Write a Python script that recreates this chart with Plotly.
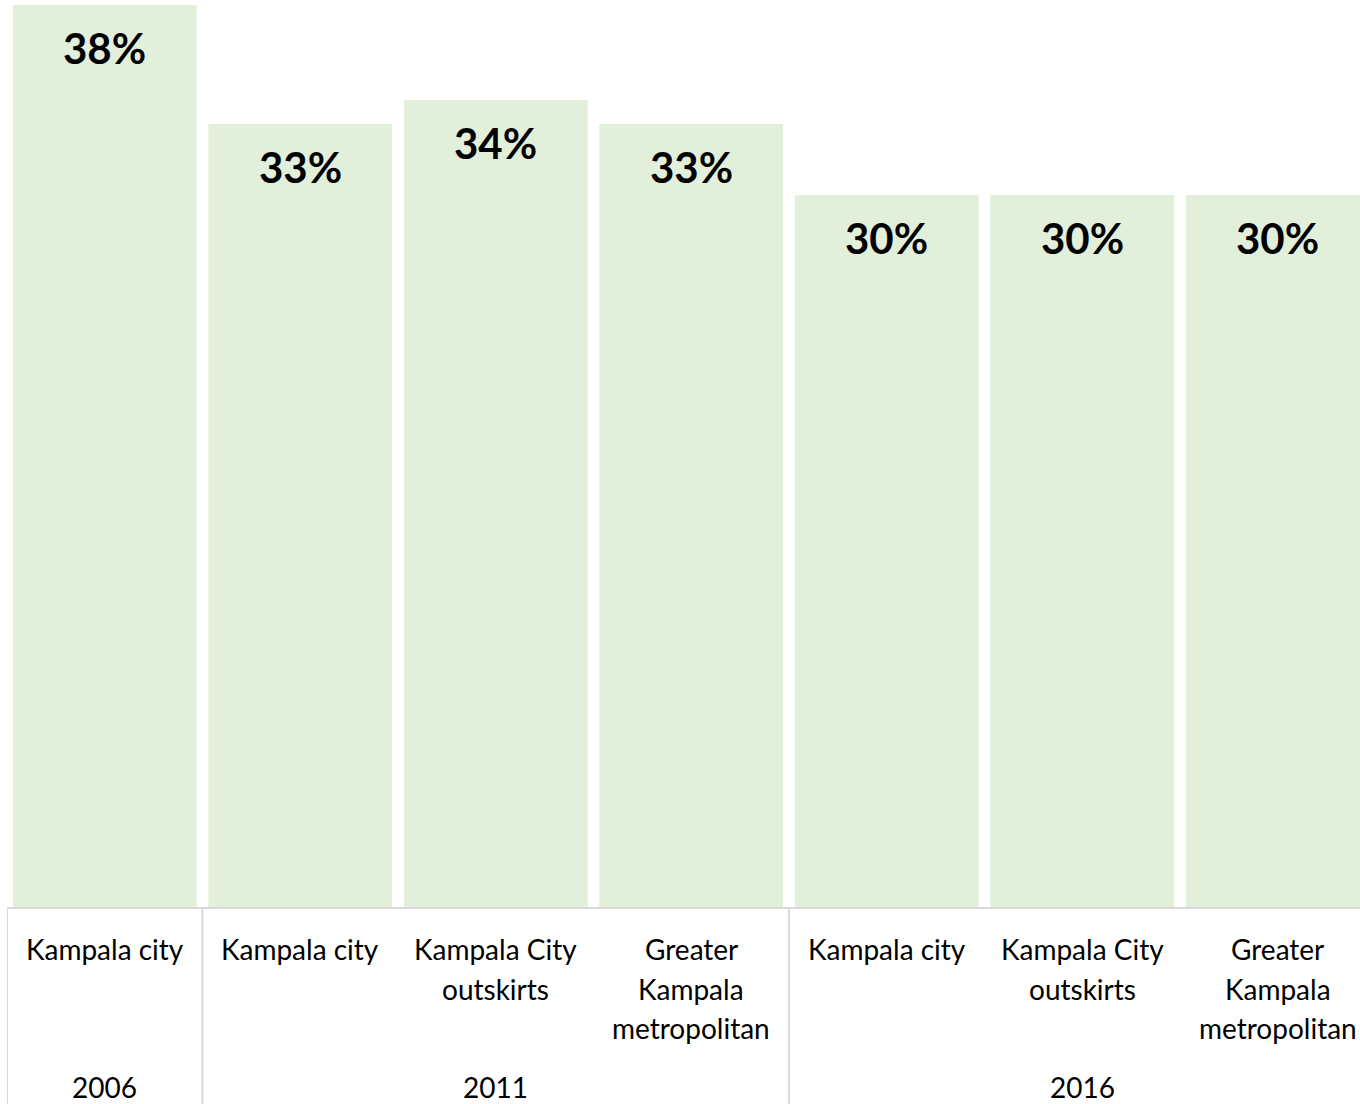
import plotly.graph_objects as go

# Share (%) by area and survey year
areas = ["Kampala city", "Kampala city", "Kampala City\noutskirts", "Greater\nKampala\nmetropolitan",
         "Kampala city", "Kampala City\noutskirts", "Greater\nKampala\nmetropolitan"]
values = [38, 33, 34, 33, 30, 30, 30]
years = ["2006", "2011", "2016"]
year_groups = [[0], [1, 2, 3], [4, 5, 6]]

bar_color = "#E2EFDA"
line_color = "#D9D9D9"
font_family = "Lato, 'Open Sans', sans-serif"

x_pos = list(range(len(values)))

fig = go.Figure()
fig.add_trace(go.Bar(
    x=x_pos, y=values, width=0.94,
    marker=dict(color=bar_color, line=dict(width=0)),
    hoverinfo="skip",
))

annotations = []
# value labels inside the top of each bar
for x, v in zip(x_pos, values):
    annotations.append(dict(
        x=x, y=v, xref="x", yref="y", text=f"<b>{v}%</b>", showarrow=False,
        yanchor="middle", yshift=-43,
        font=dict(family=font_family, size=42, color="#000000"),
    ))

# category labels under the axis, one annotation per text line
for x, label in zip(x_pos, areas):
    for i, line in enumerate(label.split("\n")):
        annotations.append(dict(
            x=x, y=0, xref="x", yref="paper", text=line, showarrow=False,
            yanchor="middle", yshift=-41 - 39.5 * i,
            font=dict(family=font_family, size=28, color="#000000"),
        ))

# year labels centred under each group
for yr, grp in zip(years, year_groups):
    annotations.append(dict(
        x=sum(grp) / len(grp), y=0, xref="x", yref="paper", text=yr, showarrow=False,
        yanchor="middle", yshift=-179,
        font=dict(family=font_family, size=28, color="#000000"),
    ))

plot_h = 908
bottom = 196
shapes = [dict(type="line", xref="paper", yref="paper", x0=0, x1=1, y0=0, y1=0,
               line=dict(color=line_color, width=2))]
# group separators below the axis
for sep in [-0.5, 0.5, 3.5]:
    shapes.append(dict(type="line", xref="x", yref="paper", x0=sep, x1=sep,
                       y0=0, y1=-bottom / plot_h, line=dict(color=line_color, width=2)))

fig.update_layout(
    width=1360, height=1104,
    margin=dict(l=7, r=0, t=0, b=bottom),
    paper_bgcolor="white", plot_bgcolor="white",
    showlegend=False,
    xaxis=dict(range=[-0.5, 6.421], showticklabels=False, showgrid=False,
               zeroline=False, showline=False, ticks=""),
    yaxis=dict(range=[0, 38.21], showticklabels=False, showgrid=False,
               zeroline=False, showline=False, ticks=""),
    annotations=annotations,
    shapes=shapes,
)

fig.write_html("out.html")
